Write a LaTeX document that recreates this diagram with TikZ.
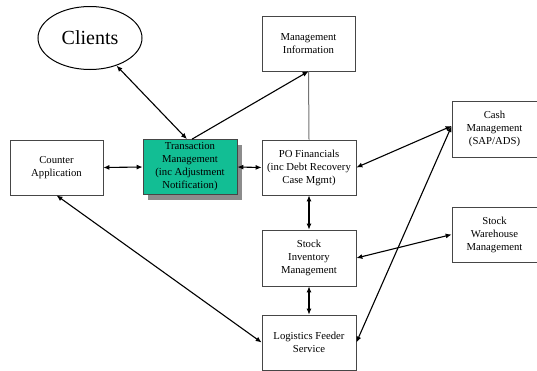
\documentclass[tikz,border=0pt]{standalone}
\usepackage{fontspec}
\setmainfont{Liberation Serif}
\usetikzlibrary{shapes.geometric,arrows.meta}
\definecolor{tmgreen}{RGB}{18,190,148}
\definecolor{boxline}{RGB}{70,70,70}
\tikzset{
  blk/.style={draw=boxline, line width=0.7pt, fill=white, align=center, font=\fontsize{10.7}{13}\selectfont, inner sep=0pt},
  conn/.style={line width=1.1pt, {Latex[length=6pt,width=5pt]}-{Latex[length=6pt,width=5pt]}},
  oneway/.style={line width=1.1pt, -{Latex[length=6pt,width=5pt]}},
}
\begin{document}
\begin{tikzpicture}[x=1pt,y=-1pt]
\useasboundingbox (0,0) rectangle (537,370);
\fill[white] (0,0) rectangle (537,370);
% nodes
\node[draw=black, line width=1pt, ellipse, minimum width=104pt, minimum height=63pt, inner sep=0pt, font=\fontsize{20}{22}\selectfont] (clients) at (90,38) {Clients};
\node[blk, minimum width=93pt, minimum height=55pt] (mi) at (308.5,43.5) {Management\\Information};
\node[blk, minimum width=85pt, minimum height=56pt] (cash) at (494.5,129) {Cash\\Management\\(SAP/ADS)};
\node[blk, minimum width=94pt, minimum height=55pt] (po) at (309,167.5) {PO Financials\\(inc Debt Recovery\\Case Mgmt)};
\fill[gray!90] (148,145) rectangle (242,200);
\node[blk, fill=tmgreen, minimum width=94pt, minimum height=55pt] (tm) at (190,167) {Transaction\\Management\\(inc Adjustment\\Notification)};
\node[blk, minimum width=93pt, minimum height=55pt] (ca) at (56.5,167.5) {Counter\\Application};
\node[blk, minimum width=94pt, minimum height=56pt] (si) at (309,258) {Stock\\Inventory\\Management};
\node[blk, minimum width=85pt, minimum height=55pt] (sw) at (494.5,234.5) {Stock\\Warehouse\\Management};
\node[blk, minimum width=94pt, minimum height=55pt] (lf) at (309,342.5) {Logistics Feeder\\Service};
% connectors
\draw[conn] (clients) -- ([xshift=-3pt]tm.north);
\draw[oneway] ([xshift=2pt]tm.north) -- (mi.south);
\draw[black!55, line width=1pt] (mi.south) -- (po.north);
\draw[conn] (ca.east) -- (tm.west);
\draw[conn] (tm.east) -- (po.west);
\draw[conn] (po.east) -- ([yshift=3pt]cash.west);
\draw[conn] (po.south) -- (si.north);
\draw[conn] (si.east) -- (sw.west);
\draw[conn] (si.south) -- (lf.north);
\draw[conn] (ca.south) -- (lf.west);
\draw[conn] (lf.east) -- ([yshift=3pt]cash.west);
\end{tikzpicture}
\end{document}
